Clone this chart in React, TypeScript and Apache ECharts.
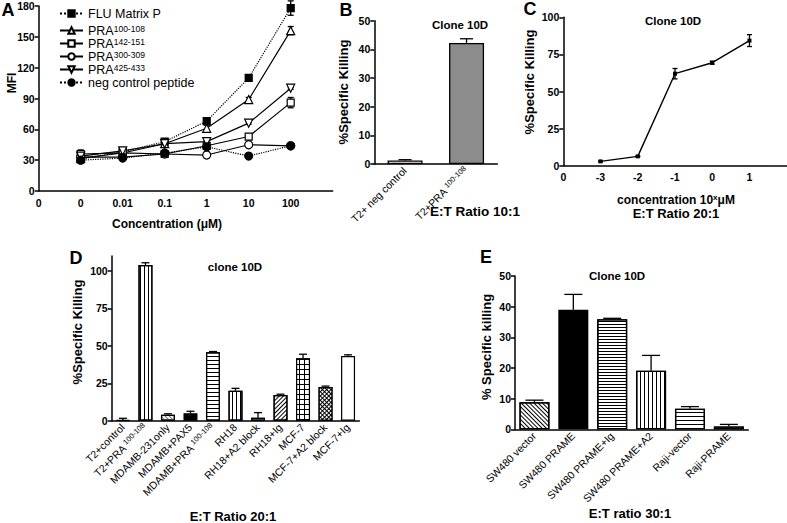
import React, { useEffect, useRef } from 'react';
import * as echarts from 'echarts';

const FONT = '"Liberation Sans", Arial, Helvetica, sans-serif';

// ---------- Panel A ----------
const A_X_LABELS = ['0', '0', '0.01', '0.1', '1', '10', '100', ''];
const A_X_POS = [1, 2, 3, 4, 5, 6];
const A_NAMES = ['FLU Matrix P', 'PRA100-108', 'PRA142-151', 'PRA300-309', 'PRA425-433', 'neg control peptide'];
const A_FLU = [31, 38, 48, 68, 110, 178];
const A_FLU_ERR = [3, 2, 2, 3, 3, 7];
const A_PRA100 = [32, 37, 46, 61, 89, 156];
const A_PRA100_ERR = [2, 1, 2, 3, 2, 4];
const A_PRA142 = [36, 37, 36, 44, 53, 86];
const A_PRA142_ERR = [4, 1, 1, 1, 2, 5];
const A_PRA300 = [33, 33, 36, 35, 45, 44];
const A_PRA300_ERR = [2, 1, 1, 3, 1, 1];
const A_PRA425 = [34, 39, 46, 48, 66, 100];
const A_PRA425_ERR = [2, 1, 1, 1, 1, 1];
const A_NEG = [30, 32, 37, 43, 34, 44];
const A_NEG_ERR = [2, 1, 1, 2, 1, 1];

// ---------- Panel B ----------
const B_CATS = ['T2+ neg control', 'T2+PRA100-108'];
const B_VALUES = [1.2, 42.2];
const B_ERR = [0.3, 1.5];

// ---------- Panel C ----------
const C_X_LABELS = ['0', '-3', '-2', '-1', '0', '1', ''];
const C_X = [-3, -2, -1, 0, 1];
const C_VALUES = [2.9, 6.3, 62, 69.4, 84.3];
const C_ERR = [0.3, 0.3, 3.5, 1, 4];

// ---------- Panel D ----------
const D_CATS = ['T2+control', 'T2+PRA100-108', 'MDAMB-231only', 'MDAMB+PAX5', 'MDAMB+PRA100-108', 'RH18',
  'RH18+A2 block', 'RH18+Ig', 'MCF-7', 'MCF-7+A2 block', 'MCF-7+Ig'];
const D_VALUES = [0.5, 104, 4, 5, 45.7, 20, 2, 17.2, 41.7, 22.5, 43.2];
const D_ERR = [1.1, 1.5, 0.6, 1.3, 0.5, 1.6, 3.4, 0.5, 2.7, 0.6, 0.8];

// ---------- Panel E ----------
const E_CATS = ['SW480 vector', 'SW480 PRAME', 'SW480 PRAME+Ig', 'SW480 PRAME+A2', 'Raji-vector', 'Raji-PRAME'];
const E_VALUES = [8.8, 39, 35.9, 19.1, 6.7, 0.9];
const E_ERR = [0.7, 5, 0.3, 5, 0.7, 0.7];

// ---------- styles ----------
const hLines = (gap: number, color = '#000') => ({ symbol: 'rect', symbolSize: 1, color, dashArrayX: [1, 0], dashArrayY: [1, gap], rotation: 0 });
const vLines = (gap: number, color = '#000') => ({ symbol: 'rect', symbolSize: 1, color, dashArrayX: [1, gap], dashArrayY: [1, 0], rotation: 0 });
const diag = (gap: number, rot: number, color = '#000') => ({ symbol: 'rect', symbolSize: 1, color, dashArrayX: [1, 0], dashArrayY: [1, gap], rotation: rot });
const grid = (cell: number, rot = 0) => ({ symbol: 'rect', symbolSize: 1, color: '#fff', dashArrayX: [cell, 1], dashArrayY: [cell, 1], rotation: rot });
const dots = () => ({ symbol: 'circle', symbolSize: 0.9, color: '#333', dashArrayX: [1, 1], dashArrayY: [1, 1], rotation: 0 });

const D_STYLES: any[] = [
  { color: '#fff' },
  { color: '#fff', decal: vLines(3) },
  { color: '#fff', decal: diag(2, Math.PI / 4, '#777') },
  { color: '#000' },
  { color: '#fff', decal: hLines(3) },
  { color: '#fff', decal: vLines(3) },
  { color: '#fff', decal: dots() },
  { color: '#fff', decal: diag(2, -Math.PI / 4) },
  { color: '#000', decal: grid(4) },
  { color: '#000', decal: grid(2, Math.PI / 4) },
  { color: '#fff' },
];
const E_STYLES: any[] = [
  { color: '#fff', decal: diag(2, Math.PI / 4) },
  { color: '#000' },
  { color: '#fff', decal: hLines(2) },
  { color: '#fff', decal: vLines(3) },
  { color: '#fff', decal: hLines(3) },
  { color: '#fff', decal: dots() },
];

const axisLine = { show: true, onZero: false, lineStyle: { color: '#000', width: 1.5 } };
const axisTick = { show: true, length: 4, lineStyle: { color: '#000', width: 1.5 } };
const tickLabel = { color: '#000', fontFamily: FONT, fontWeight: 'bold' as const, fontSize: 10.5 };
const catLabelRich = {
  n: { fontFamily: FONT, fontSize: 10.5, color: '#000', lineHeight: 13 },
  s: { fontFamily: FONT, fontSize: 7.5, color: '#000', lineHeight: 13, verticalAlign: 'top' },
};
const catFormatter = (v: string) => {
  const m = v.match(/^(.*PRA)(\d+-\d+)$/);
  return m ? `{n|${m[1]} }{s|${m[2]}}` : `{n|${v}}`;
};

function errorSeries(xi: number, data: number[][], capW: number, mode: 'up' | 'both', z = 3) {
  return {
    type: 'custom',
    xAxisIndex: xi,
    yAxisIndex: xi,
    z,
    silent: true,
    data,
    renderItem: (_p: any, api: any) => {
      const x = api.value(0), y = api.value(1), e = api.value(2);
      const top = api.coord([x, y + e]);
      const bot = api.coord([x, mode === 'up' ? y : y - e]);
      const st = { stroke: '#000', lineWidth: 1.3 };
      const w = capW / 2;
      const children: any[] = [
        { type: 'line', shape: { x1: top[0], y1: top[1], x2: bot[0], y2: bot[1] }, style: st },
        { type: 'line', shape: { x1: top[0] - w, y1: top[1], x2: top[0] + w, y2: top[1] }, style: st },
      ];
      if (mode === 'both') children.push({ type: 'line', shape: { x1: bot[0] - w, y1: bot[1], x2: bot[0] + w, y2: bot[1] }, style: st });
      return { type: 'group', children };
    },
  };
}

function buildOption() {
  const aSeriesDefs = [
    { vals: A_FLU, err: A_FLU_ERR, symbol: 'rect', rot: 0, filled: true, dotted: true },
    { vals: A_PRA100, err: A_PRA100_ERR, symbol: 'triangle', rot: 0, filled: false, dotted: false },
    { vals: A_PRA142, err: A_PRA142_ERR, symbol: 'rect', rot: 0, filled: false, dotted: false },
    { vals: A_PRA300, err: A_PRA300_ERR, symbol: 'circle', rot: 0, filled: false, dotted: false },
    { vals: A_PRA425, err: A_PRA425_ERR, symbol: 'triangle', rot: 180, filled: false, dotted: false },
    { vals: A_NEG, err: A_NEG_ERR, symbol: 'circle', rot: 0, filled: true, dotted: true },
  ];
  const series: any[] = [];
  aSeriesDefs.forEach((d, k) => {
    series.push(errorSeries(0, A_X_POS.map((x, i) => [x, d.vals[i], d.err[i]]), 6, 'both', 1));
    series.push({
      type: 'line', name: A_NAMES[k], xAxisIndex: 0, yAxisIndex: 0,
      data: A_X_POS.map((x, i) => [x, d.vals[i]]),
      symbol: d.symbol, symbolRotate: d.rot, symbolSize: d.symbol === 'rect' ? 7 : 8,
      lineStyle: { color: '#000', width: 1.2, type: d.dotted ? 'dotted' : 'solid' },
      itemStyle: { color: d.filled ? '#000' : '#fff', borderColor: '#000', borderWidth: 1.2 },
      z: 2,
    });
  });

  // B
  series.push({
    type: 'bar', xAxisIndex: 1, yAxisIndex: 1, barWidth: 35,
    data: B_VALUES.map((v, i) => ({ value: v, itemStyle: { color: i === 0 ? '#fff' : '#8c8c8c' } })),
    itemStyle: { borderColor: '#000', borderWidth: 1.3 },
  });
  series.push(errorSeries(1, B_VALUES.map((v, i) => [i, v, B_ERR[i]]), 13, 'up'));

  // C
  series.push(errorSeries(2, C_X.map((x, i) => [x, C_VALUES[i], C_ERR[i]]), 5, 'both', 1));
  series.push({
    type: 'line', xAxisIndex: 2, yAxisIndex: 2,
    data: C_X.map((x, i) => [x, C_VALUES[i]]),
    symbol: 'rect', symbolSize: 4,
    lineStyle: { color: '#000', width: 1.4 }, itemStyle: { color: '#000' }, z: 2,
  });

  // D
  series.push({
    type: 'bar', xAxisIndex: 3, yAxisIndex: 3, barWidth: 14,
    data: D_VALUES.map((v, i) => ({ value: v, itemStyle: D_STYLES[i] })),
    itemStyle: { borderColor: '#000', borderWidth: 1.2 },
  });
  series.push(errorSeries(3, D_VALUES.map((v, i) => [i, v, D_ERR[i]]), 8, 'up'));

  // E
  series.push({
    type: 'bar', xAxisIndex: 4, yAxisIndex: 4, barWidth: 30,
    data: E_VALUES.map((v, i) => ({ value: v, itemStyle: E_STYLES[i] })),
    itemStyle: { borderColor: '#000', borderWidth: 1.3 },
  });
  series.push(errorSeries(4, E_VALUES.map((v, i) => [i, v, E_ERR[i]]), 18, 'up'));

  const yAx = (gi: number, max: number, interval: number, extra: any = {}) => ({
    gridIndex: gi, type: 'value', min: 0, max, interval,
    axisLine, axisTick, splitLine: { show: false },
    axisLabel: { ...tickLabel, margin: 4, ...extra },
  });
  const catX = (gi: number, cats: string[]) => ({
    gridIndex: gi, type: 'category', data: cats, axisLine,
    axisTick: { show: false }, splitLine: { show: false },
    axisLabel: { rotate: 45, margin: 5, interval: 0, formatter: catFormatter, rich: catLabelRich, color: '#000' },
  });

  const legendText = {
    color: '#000', fontFamily: FONT, fontSize: 12.5, lineHeight: 13,
    rich: {
      b: { fontFamily: FONT, fontSize: 12.5, lineHeight: 13, color: '#000' },
      s: { fontFamily: FONT, fontSize: 8.5, lineHeight: 13, color: '#000', verticalAlign: 'top' },
    },
  };
  const legendFmt = (name: string) => name.startsWith('PRA') ? `{b|PRA}{s|${name.slice(3)}}` : name;

  const T = (text: string, x: number, y: number, size: number, rot = 0, rich?: any) => ({
    type: 'text', x, y, rotation: rot, silent: true,
    style: { text, fill: '#000', font: `bold ${size}px ${FONT}`, align: 'center', verticalAlign: 'middle', rich },
  });
  const supRich = {
    a: { fontFamily: FONT, fontWeight: 'bold', fontSize: 12, lineHeight: 14, fill: '#000', color: '#000' },
    s: { fontFamily: FONT, fontWeight: 'bold', fontSize: 8, lineHeight: 14, fill: '#000', color: '#000', verticalAlign: 'top' },
  };

  return {
    animation: false,
    backgroundColor: '#fff',
    textStyle: { fontFamily: FONT },
    grid: [
      { left: 38.7, top: 6, width: 294, height: 185, outerBoundsMode: 'none' },
      { left: 374.3, top: 20.7, width: 123, height: 143.3, outerBoundsMode: 'none' },
      { left: 563.3, top: 17.3, width: 223.4, height: 148.4, outerBoundsMode: 'none' },
      { left: 111.7, top: 256, width: 247.6, height: 164.7, outerBoundsMode: 'none' },
      { left: 515, top: 276, width: 233.3, height: 153.3, outerBoundsMode: 'none' },
    ],
    xAxis: [
      {
        gridIndex: 0, type: 'value', min: 0, max: 7, interval: 1, axisLine, axisTick: { show: false },
        splitLine: { show: false },
        axisLabel: { ...tickLabel, margin: 6, formatter: (v: number) => A_X_LABELS[v] ?? '' },
      },
      catX(1, B_CATS),
      {
        gridIndex: 2, type: 'value', min: -4, max: 2, interval: 1, axisLine, axisTick: { show: false },
        splitLine: { show: false },
        axisLabel: { ...tickLabel, margin: 6, formatter: (v: number) => C_X_LABELS[v + 4] ?? '' },
      },
      catX(3, D_CATS),
      catX(4, E_CATS),
    ],
    yAxis: [
      yAx(0, 180, 30),
      yAx(1, 50, 10),
      yAx(2, 100, 25),
      yAx(3, 110, 25, { showMaxLabel: false }),
      yAx(4, 50, 10),
    ],
    legend: [
      {
        data: [A_NAMES[0]], left: 54, top: 2, orient: 'vertical', itemWidth: 23, itemHeight: 8,
        selectedMode: false, textStyle: legendText, formatter: legendFmt,
      },
      {
        data: A_NAMES.slice(1), left: 54, top: 19, orient: 'vertical', itemWidth: 23, itemHeight: 8,
        itemGap: 0, selectedMode: false, textStyle: legendText, formatter: legendFmt,
      },
    ],
    graphic: [
      T('A', 8, 10, 18),
      T('MFI', 12, 83, 12, Math.PI / 2),
      T('Concentration (μM)', 167, 224, 12),
      T('B', 346, 10, 18),
      T('%Specific Killing', 343, 92, 13, Math.PI / 2),
      T('Clone 10D', 460, 25, 11.5),
      T('E:T Ratio 10:1', 475, 211, 13.5),
      T('C', 530, 9, 18),
      T('%Specific Killing', 529, 82, 13, Math.PI / 2),
      T('Clone 10D', 673, 21, 11.5),
      T('{a|concentration 10}{s|x}{a|μM}', 676, 200, 12, 0, supRich),
      T('E:T Ratio 20:1', 676, 213, 13),
      T('D', 76, 258, 18),
      T('%Specific Killing', 77, 332, 13, Math.PI / 2),
      T('clone 10D', 235, 267, 11.5),
      T('E:T Ratio 20:1', 233, 516, 13),
      T('E', 486, 257, 18),
      T('% Specific killing', 486, 347, 13, Math.PI / 2),
      T('Clone 10D', 617, 276, 11.5),
      T('E:T ratio 30:1', 630, 513, 13),
    ],
    series,
  };
}

export default function App() {
  const ref = useRef<HTMLDivElement>(null);
  useEffect(() => {
    const chart = echarts.init(ref.current!, null, { renderer: 'svg' });
    chart.setOption(buildOption() as any);
    return () => chart.dispose();
  }, []);
  return (
    <div
      ref={ref}
      style={{ position: 'absolute', left: 0, top: 0, width: 787, height: 523, background: '#fff' }}
    />
  );
}
